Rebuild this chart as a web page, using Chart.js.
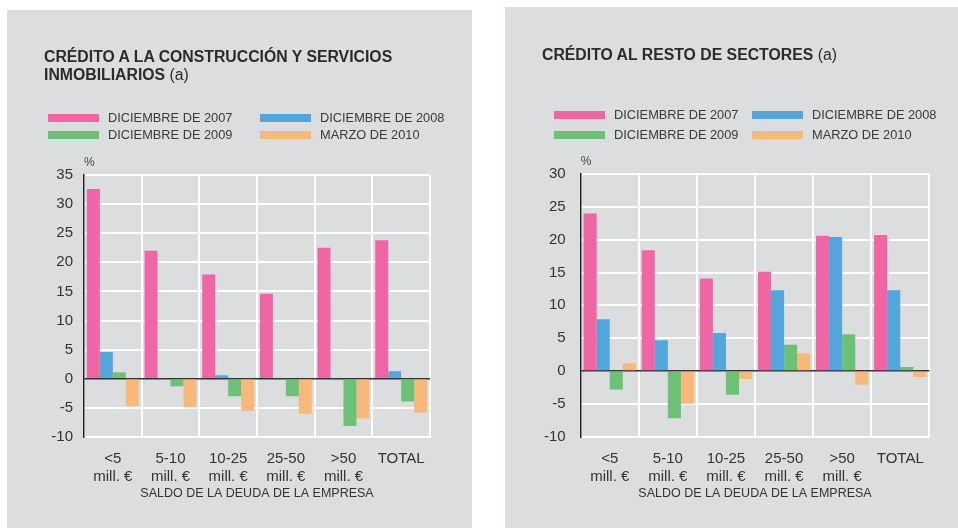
<!DOCTYPE html>
<html>
<head>
<meta charset="utf-8">
<script src="https://cdn.jsdelivr.net/npm/chart.js@4.4.0/dist/chart.umd.min.js"></script>
<style>
  body { margin: 0; background: #fff; width: 958px; height: 528px; overflow: hidden; position: relative;
         font-family: "Liberation Sans", Arial, sans-serif; color: #333; }
  .panel { position: absolute; background: #dcdddf; }
  .panel canvas { position: absolute; left: 0; top: 0; }
  .title { position: absolute; left: 37px; top: 38px; font-size: 15.8px; line-height: 18px; font-weight: bold; color: #2b2b2b; }
  .title span { font-weight: normal; }
  .leg { position: absolute; height: 16px; line-height: 16px; font-size: 12.8px; white-space: nowrap; padding-left: 60px; color: #3a3a3a; }
  .leg i { position: absolute; left: 0; top: 4px; width: 51px; height: 8px; }
</style>
</head>
<body>
<div class="panel" id="p1" style="left:7px;top:10px;width:465px;height:518px;">
  <canvas id="c1" width="465" height="518"></canvas>
  <div class="title">CRÉDITO A LA CONSTRUCCIÓN Y SERVICIOS<br>INMOBILIARIOS <span>(a)</span></div>
</div>
<div class="panel" id="p2" style="left:505px;top:7px;width:453px;height:521px;">
  <canvas id="c2" width="453" height="521"></canvas>
  <div class="title" style="top:39px">CRÉDITO AL RESTO DE SECTORES <span>(a)</span></div>
</div>
<script>
// categories and series
const categories = [['<5', 'mill. €'], ['5-10', 'mill. €'], ['10-25', 'mill. €'], ['25-50', 'mill. €'], ['>50', 'mill. €'], 'TOTAL'];
const seriesNames = ['DICIEMBRE DE 2007', 'DICIEMBRE DE 2008', 'DICIEMBRE DE 2009', 'MARZO DE 2010'];
const seriesColors = ['#f066a4', '#52a6dc', '#6cc177', '#f6b97b'];
const axisTitle = 'SALDO DE LA DEUDA DE LA EMPRESA';

// Crédito a la construcción y servicios inmobiliarios (%)
const constDic2007 = [32.6, 22.0, 17.9, 14.6, 22.5, 23.8];
const constDic2008 = [4.6, -0.1, 0.6, 0, 0, 1.3];
const constDic2009 = [1.1, -1.3, -3.0, -3.0, -8.1, -3.9];
const constMar2010 = [-4.7, -4.9, -5.5, -6.0, -6.8, -5.8];

// Crédito al resto de sectores (%)
const restoDic2007 = [24.0, 18.4, 14.1, 15.1, 20.6, 20.7];
const restoDic2008 = [7.9, 4.7, 5.8, 12.3, 20.4, 12.3];
const restoDic2009 = [-2.8, -7.2, -3.6, 4.0, 5.6, 0.6];
const restoMar2010 = [1.2, -5.0, -1.2, 2.7, -2.1, -0.9];

// y axis ranges
const constY = { min: -10, max: 35, step: 5 };
const restoY = { min: -10, max: 30, step: 5 };

Chart.defaults.font.family = '"Liberation Sans", Arial, sans-serif';

// small "%" above the y axis
const percentLabel = {
  id: 'percentLabel',
  afterDraw(chart) {
    const { ctx, chartArea } = chart;
    ctx.save();
    ctx.font = '12px "Liberation Sans", Arial, sans-serif';
    ctx.fillStyle = '#444';
    ctx.textBaseline = 'middle';
    ctx.fillText('%', chartArea.left, chartArea.top - 12);
    ctx.restore();
  }
};

function makeChart(id, series, yr, pad, yTickPad) {
  return new Chart(document.getElementById(id), {
    type: 'bar',
    data: {
      labels: categories,
      datasets: series.map((d, i) => ({
        label: seriesNames[i],
        data: d,
        backgroundColor: seriesColors[i],
        borderWidth: 0,
        categoryPercentage: 0.9,
        barPercentage: 1
      }))
    },
    options: {
      responsive: false,
      animation: false,
      layout: { padding: pad },
      plugins: { legend: { display: false }, tooltip: { enabled: false } },
      scales: {
        x: {
          grid: { color: '#fff', lineWidth: 2, drawTicks: false, offset: true },
          border: { color: '#fff', width: 2 },
          ticks: { color: '#333', font: { size: 15 }, padding: 13, maxRotation: 0, autoSkip: false },
          title: { display: true, text: axisTitle, color: '#333', font: { size: 12.5 }, padding: { top: 0, bottom: 6 } },
          afterFit: s => { s.height = 70; }
        },
        y: {
          min: yr.min,
          max: yr.max,
          ticks: { stepSize: yr.step, color: '#333', font: { size: 15 }, padding: yTickPad },
          grid: {
            color: c => c.tick.value === 0 ? '#333' : '#fff',
            lineWidth: c => c.tick.value === 0 ? 1.5 : 2,
            drawTicks: false
          },
          border: { color: '#222', width: 1.5 },
          afterFit: s => { s.width = 40; }
        }
      }
    },
    plugins: [percentLabel]
  });
}

function buildLegend(panelId, cols, rows) {
  const panel = document.getElementById(panelId);
  seriesNames.forEach((name, i) => {
    const item = document.createElement('div');
    item.className = 'leg';
    item.style.left = cols[i % 2] + 'px';
    item.style.top = rows[Math.floor(i / 2)] + 'px';
    item.innerHTML = `<i style="background:${seriesColors[i]}"></i>${name}`;
    panel.appendChild(item);
  });
}

makeChart('c1', [constDic2007, constDic2008, constDic2009, constMar2010], constY,
  { left: 37, right: 42, top: 165, bottom: 21 }, 11);
makeChart('c2', [restoDic2007, restoDic2008, restoDic2009, restoMar2010], restoY,
  { left: 35.7, right: 28.7, top: 167, bottom: 21.3 }, 15);

buildLegend('p1', [41, 253], [100, 117]);
buildLegend('p2', [49, 247], [100, 120]);
</script>
</body>
</html>
